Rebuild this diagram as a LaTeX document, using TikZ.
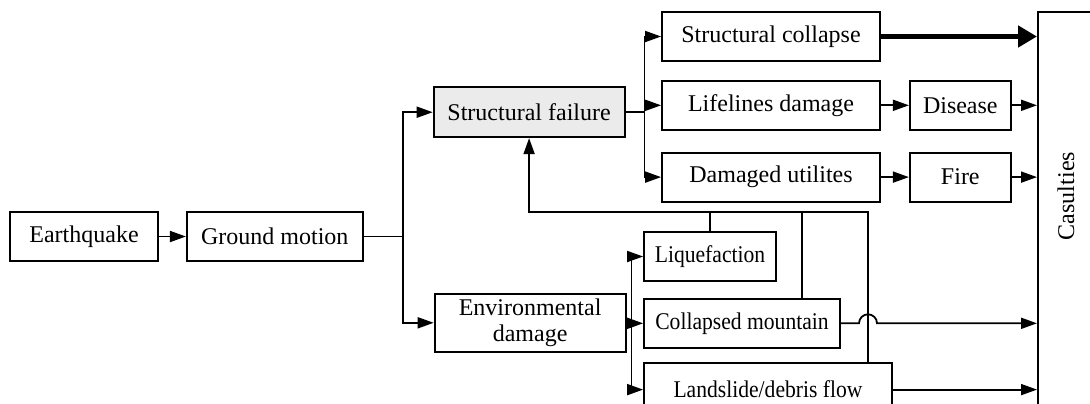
\documentclass[tikz,border=0pt]{standalone}
\usepackage{fontspec}
\setmainfont{Liberation Serif}
\newfontfamily\narrowserif[FakeStretch=0.9]{Liberation Serif}
\usetikzlibrary{arrows.meta,positioning,calc}
\definecolor{palegray}{RGB}{235,235,235}
\tikzset{
  txt/.style={font=\fontsize{12}{13}\selectfont},
  box/.style={rectangle, draw=black, line width=0.9pt, fill=white, txt,
              minimum height=24.5pt, inner sep=0pt, align=center},
  boxgray/.style={box, fill=palegray},
  boxnarrow/.style={box, font=\narrowserif\fontsize{12}{13}\selectfont},
  arrow/.style={-{Triangle[length=8pt,width=5.5pt]}, line width=0.9pt},
  bigarrow/.style={-{Triangle[length=9.5pt,width=10.5pt]}, line width=2.8pt},
  line/.style={line width=0.9pt},
}
\begin{document}
\begin{tikzpicture}[x=0.5pt, y=-0.5pt]
\useasboundingbox (0,0) rectangle (1090,403);
\node[box, minimum width=74pt] (eq) at (84,236.5) {Earthquake};
\node[box, minimum width=88pt, right=13.5pt of eq] (gm) {Ground motion};
\node[boxgray, minimum width=95.5pt, minimum height=25pt, above right=36.5pt and 34.5pt of gm] (sf) {Structural failure};
\node[box, minimum width=95.5pt, minimum height=29pt, below right=15.5pt and 35pt of gm] (ed) {Environmental\\damage};
\node[box, minimum width=109pt] (sc) at (771,36.5) {Structural collapse};
\node[box, minimum width=109pt, below=9pt of sc] (ld) {Lifelines damage};
\node[box, minimum width=109pt, below=10.5pt of ld] (du) {Damaged utilites};
\node[box, minimum width=50.5pt, right=14pt of ld] (dis) {Disease};
\node[box, minimum width=50.5pt, right=14pt of du] (fire) {Fire};
\node[box, minimum width=40pt, minimum height=210pt, anchor=north west] (cas) at (1037,11) {};
\node[txt, rotate=90] (castext) at (1066,196) {Casulties};
\node[boxnarrow, minimum width=66pt] (liq) at (710,256.5) {Liquefaction};
\node[boxnarrow, minimum width=98pt, below right=8pt and 0pt of liq.south west] (col) {Collapsed mountain};
\node[boxnarrow, minimum width=124pt, minimum height=27pt, below right=6.5pt and 0pt of col.south west] (ls) {Landslide/debris flow};

% branches
\draw[arrow] (eq) -- (gm);
\foreach \t in {sf,ed}
  \draw[arrow] (gm.east) -- ++(39,0) |- (\t);
\foreach \t in {sc,ld,du}
  \draw[arrow] (sf.east) -- ++(19,0) |- (\t);
\foreach \t in {liq,col,ls}
  \draw[arrow] (ed.east) -- ++(5,0) |- (\t);
\draw[arrow] (ld) -- (dis);
\draw[arrow] (du) -- (fire);

% into casulties
\draw[bigarrow] (sc) -- (sc -| cas.west);
\foreach \t in {dis,fire,ls}
  \draw[arrow] (\t) -- (\t -| cas.west);

% feedback to structural failure
\coordinate (fb) at ([yshift=-37pt]sf.south);
\coordinate (c2) at ([xshift=30pt]col.north);
\coordinate (c3) at ([xshift=50pt]ls.north);
\draw[arrow] (c3) |- (fb) -- (sf);
\draw[line] (liq) -- (liq |- fb);
\draw[line] (c2) -- (c2 |- fb);
\draw[arrow] (col) -- ($(col -| c3)+(-4.5pt,0)$) arc[start angle=180, end angle=0, radius=4.5pt] -- (col -| cas.west);
\end{tikzpicture}
\end{document}
